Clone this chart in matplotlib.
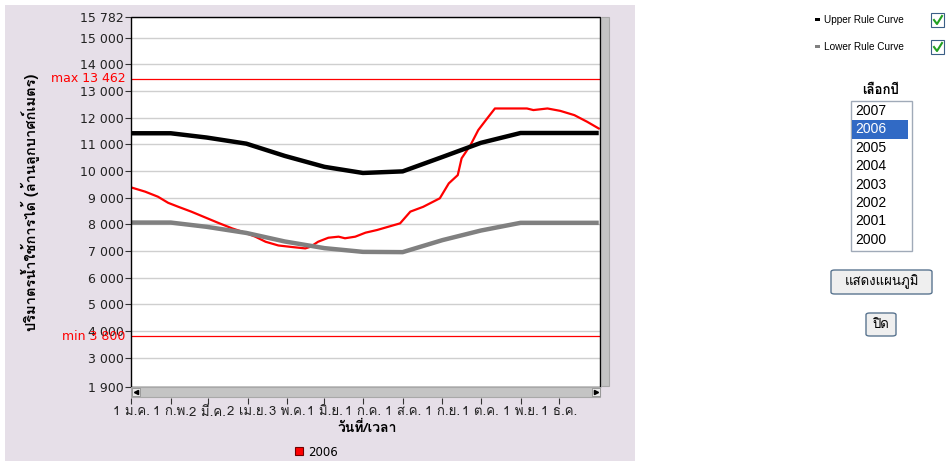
import matplotlib
matplotlib.use('Agg')
import matplotlib.pyplot as plt
from matplotlib.patches import Rectangle, FancyBboxPatch
from matplotlib.lines import Line2D

# Rule curves (monthly points, day of year)
rule_days = [0, 31, 59, 90, 120, 151, 181, 212, 243, 273, 304, 334, 365]
upper_rule = [11420, 11420, 11260, 11030, 10570, 10160, 9930, 9990, 10530, 11060, 11430, 11430, 11430]
lower_rule = [8070, 8070, 7910, 7680, 7360, 7110, 6970, 6960, 7410, 7770, 8060, 8060, 8060]

# Year 2006 storage
days_2006 = [0, 11, 21, 29, 37, 47, 58, 68, 79, 89, 97, 105, 115, 126, 136, 140, 146, 154, 162, 167,
             175, 183, 192, 210, 218, 228, 241, 248, 255, 258, 265, 271, 278, 284, 309, 314, 325, 335,
             346, 356, 365]
vol_2006 = [9390, 9230, 9040, 8810, 8660, 8480, 8260, 8060, 7850, 7690, 7540, 7350, 7210, 7150, 7100,
            7160, 7350, 7500, 7540, 7480, 7540, 7690, 7790, 8040, 8480, 8660, 8980, 9540, 9850, 10480,
            10980, 11540, 11980, 12350, 12350, 12290, 12350, 12260, 12100, 11850, 11600]

max_level = 13462
min_level = 3800

x_tick_days = [0, 31, 60, 91, 122, 151, 181, 212, 243, 273, 304, 334]
x_tick_labels = ['1 ม.ค.', '1 ก.พ.', '2 มี.ค.', '2 เม.ย.', '3 พ.ค.', '1 มิ.ย.', '1 ก.ค.', '1 ส.ค.',
                 '1 ก.ย.', '1 ต.ค.', '1 พ.ย.', '1 ธ.ค.']
y_ticks = [1900, 3000, 4000, 5000, 6000, 7000, 8000, 9000, 10000, 11000, 12000, 13000, 14000, 15000, 15782]
years = ['2007', '2006', '2005', '2004', '2003', '2002', '2001', '2000']

# Loma has the Thai glyphs (Tahoma-like)
plt.rcParams['font.family'] = ['Loma', 'DejaVu Sans']

W, H = 946, 461
fig = plt.figure(figsize=(W / 100, H / 100), dpi=100)


def fx(px):
    return px / W


def fy(py):
    return 1 - py / H


def box(x0, y0, x1, y1, **kw):
    r = Rectangle((fx(x0), fy(y1)), fx(x1) - fx(x0), fy(y0) - fy(y1), transform=fig.transFigure, **kw)
    fig.add_artist(r)
    return r


# chart panel background
box(5, 5, 635, 461, facecolor='#E6DFE8', edgecolor='none', zorder=0)

ax = fig.add_axes([fx(131), fy(387), fx(600) - fx(131), fy(17) - fy(387)])
ax.set_facecolor('white')

ax.axhline(max_level, color='#FF0000', lw=0.9, zorder=2)
ax.axhline(min_level, color='#FF0000', lw=0.9, zorder=2)
ax.plot(days_2006, vol_2006, color='#FF0000', lw=1.6, zorder=3)
ax.plot(rule_days, lower_rule, color='#808080', lw=3.2, zorder=4, solid_capstyle='butt')
ax.plot(rule_days, upper_rule, color='black', lw=3.2, zorder=5, solid_capstyle='butt')

ax.set_xlim(0, 366)
ax.set_ylim(1900, 15782)
ax.set_yticks(y_ticks)
ax.set_yticklabels([f'{v:,}'.replace(',', ' ') for v in y_ticks], family='DejaVu Sans')
ax.set_xticks(x_tick_days)
ax.set_xticklabels(x_tick_labels)
ax.grid(axis='y', color='#CFCFCF', lw=1, zorder=1)
for s in ax.spines.values():
    s.set_visible(False)
ax.spines['bottom'].set_position(('outward', 8))
ax.tick_params(axis='x', length=4, color='#333333', labelsize=9.5, labelcolor='#222222', pad=2)
ax.tick_params(axis='y', length=4, color='#333333', labelsize=9, labelcolor='#222222', pad=1)
ax.add_patch(Rectangle((0, 0), 1, 1, transform=ax.transAxes, fill=False, edgecolor='black',
                       lw=1, zorder=6, clip_on=False))

ax.text(-0.012, max_level, 'max 13 462', color='#FF0000', fontsize=9, ha='right', va='center',
        family='DejaVu Sans', transform=ax.get_yaxis_transform())
ax.text(-0.012, min_level, 'min 3 800', color='#FF0000', fontsize=9, ha='right', va='center',
        family='DejaVu Sans', transform=ax.get_yaxis_transform())

# scrollbars
box(131, 387, 600, 397, facecolor='#C4C4C4', edgecolor='#A8A8A8', lw=0.8, zorder=3)
box(132, 388, 140, 396, facecolor='#E8E8E8', edgecolor='#909090', lw=0.6, zorder=4)
box(592, 388, 600, 396, facecolor='#E8E8E8', edgecolor='#909090', lw=0.6, zorder=4)
for px, mk in [(136, '<'), (596, '>')]:
    fig.add_artist(Line2D([fx(px)], [fy(392)], marker=mk, ms=3, color='black', ls='none',
                          transform=fig.transFigure, zorder=5))
box(601, 17, 609, 386, facecolor='#C4C4C4', edgecolor='#A8A8A8', lw=0.8, zorder=3)

fig.text(fx(30), fy(202), 'ปริมาตรน้ำใช้การได้ (ล้านลูกบาศก์เมตร)', rotation=90, ha='center',
         va='center', fontsize=10.5, fontweight='bold')
fig.text(fx(367), fy(428), 'วันที่/เวลา', ha='center', va='center', fontsize=10, fontweight='bold')

leg_handle = Line2D([], [], ls='none', marker='s', ms=6, mfc='#FF0000', mec='#700000', mew=0.8)
fig.legend(handles=[leg_handle], labels=['2006'], loc='center left', bbox_to_anchor=(fx(294), fy(452)),
           frameon=False, prop={'family': 'DejaVu Sans', 'size': 8.5}, handlelength=0.8,
           handletextpad=0.4, borderpad=0, borderaxespad=0)

# right side controls
for py, label, col in [(20, 'Upper Rule Curve', 'black'), (47, 'Lower Rule Curve', '#808080')]:
    box(815, py - 1.5, 820, py + 1.5, facecolor=col, edgecolor='none')
    fig.text(fx(824), fy(py), label, fontsize=7.2, ha='left', va='center', family='Liberation Sans')
    box(931, py - 7, 944, py + 7, facecolor='white', edgecolor='#3B5F86', lw=0.8)
    fig.add_artist(Line2D([fx(934), fx(937), fx(942)], [fy(py), fy(py + 4), fy(py - 4)],
                          transform=fig.transFigure, color='#22A022', lw=1.5))

fig.text(fx(881), fy(91), 'เลือกปี', fontsize=9.5, fontweight='bold', ha='center', va='center')
box(851, 101, 912, 251, facecolor='white', edgecolor='#A0AAB8', lw=1)
box(852, 120.5, 908, 139, facecolor='#316AC5', edgecolor='none')
for i, yr in enumerate(years):
    fig.text(fx(855), fy(111 + i * 18.4), yr, fontsize=10, ha='left', va='center',
             family='Liberation Sans', color='white' if yr == '2006' else 'black')

for x0, y0, x1, y1, label in [(831, 270, 932, 294, 'แสดงแผนภูมิ'), (866, 313, 896, 336, 'ปิด')]:
    fig.add_artist(FancyBboxPatch((fx(x0), fy(y1)), fx(x1) - fx(x0), fy(y0) - fy(y1),
                                  boxstyle='round,pad=0,rounding_size=0.004',
                                  transform=fig.transFigure, facecolor='#EFEFEF',
                                  edgecolor='#5A7590', lw=1))
    fig.text(fx((x0 + x1) / 2), fy((y0 + y1) / 2), label, fontsize=9.5, ha='center', va='center')

fig.savefig('out.png', dpi=100)
